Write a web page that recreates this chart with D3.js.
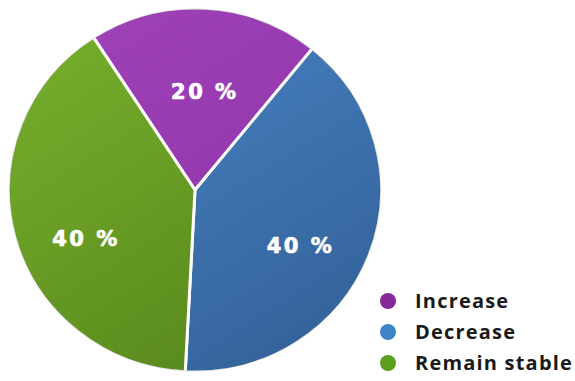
<!DOCTYPE html>
<html>
<head>
  <meta charset="utf-8">
  <title>Pie</title>
  <style>
    body { margin: 0; background: #ffffff; }
    .lbl { font-family: 'DejaVu Sans'; font-weight: bold; font-size: 21px; fill: #ffffff; stroke: #ffffff; stroke-width: 0.7px; letter-spacing: 2.5px; }
    .leg { font-family: 'Open Sans'; font-weight: 700; font-size: 20px; fill: #1a1a1a; letter-spacing: 1.2px; }
  </style>
</head>
<body>
<script src="https://cdn.jsdelivr.net/npm/d3@7"></script>
<script>
  // chart data
  var categories = ["Increase", "Decrease", "Remain stable"];
  var shares = [20, 40, 40];
  var sliceLight = ["#a043b9", "#4a88ca", "#7ab22d"];
  var sliceDark = ["#8f33a8", "#35649c", "#57871c"];
  var legendColors = ["#84289a", "#3f84c7", "#5c9e1e"];

  var width = 575, height = 381;
  var cx = 195, cy = 190, rx = 186.5, ry = 182;

  var svg = d3.select("body").append("svg")
    .attr("width", width)
    .attr("height", height);

  var defs = svg.append("defs");
  categories.forEach(function (c, i) {
    var g = defs.append("linearGradient")
      .attr("id", "grad" + i)
      .attr("gradientUnits", "userSpaceOnUse")
      .attr("x1", -rx).attr("y1", -rx)
      .attr("x2", rx * 0.3).attr("y2", rx);
    g.append("stop").attr("offset", "0%").attr("stop-color", sliceLight[i]);
    g.append("stop").attr("offset", "100%").attr("stop-color", sliceDark[i]);
  });

  // pie starts a bit left of 12 o'clock
  var offset = -33 * Math.PI / 180;
  var pie = d3.pie()
    .sort(null)
    .startAngle(offset)
    .endAngle(offset + 2 * Math.PI)
    .value(function (d) { return d; });

  var arc = d3.arc().innerRadius(0).outerRadius(rx);
  var labelArc = d3.arc().innerRadius(rx * 0.6).outerRadius(rx * 0.6);

  var arcs = pie(shares);
  var g = svg.append("g").attr("transform", "translate(" + cx + "," + cy + ") scale(1," + (ry / rx) + ")");

  g.selectAll("path.slice")
    .data(arcs)
    .enter().append("path")
    .attr("class", "slice")
    .attr("d", arc)
    .attr("fill", function (d, i) { return "url(#grad" + i + ")"; })
    .attr("stroke", "#ffffff")
    .attr("stroke-width", 3)
    .attr("stroke-linejoin", "round");

  // thin darker rim
  g.append("ellipse")
    .attr("rx", rx - 1)
    .attr("ry", rx - 1)
    .attr("fill", "none")
    .attr("stroke", "rgba(0,0,0,0.15)")
    .attr("stroke-width", 1);

  // label nudges (increase, decrease, remain stable)
  var nudge = [[4, 10], [1, 16], [-1, 20]];
  svg.selectAll("text.lbl")
    .data(arcs)
    .enter().append("text")
    .attr("class", "lbl")
    .attr("text-anchor", "middle")
    .attr("transform", function (d, i) {
      var p = labelArc.centroid(d);
      return "translate(" + (cx + p[0] + nudge[i][0]) + "," + (cy + p[1] * ry / rx + nudge[i][1]) + ")";
    })
    .attr("dy", "0.36em")
    .text(function (d) { return d.data + " %"; });

  // legend
  var legY = d3.scalePoint().domain(categories).range([301, 363]);
  var leg = svg.append("g");
  leg.selectAll("circle")
    .data(categories)
    .enter().append("circle")
    .attr("cx", 388)
    .attr("cy", function (d) { return legY(d); })
    .attr("r", 8)
    .attr("fill", function (d, i) { return legendColors[i]; });
  leg.selectAll("text")
    .data(categories)
    .enter().append("text")
    .attr("class", "leg")
    .attr("x", 415)
    .attr("y", function (d) { return legY(d); })
    .attr("dy", "0.35em")
    .text(function (d) { return d; });
</script>
</body>
</html>
